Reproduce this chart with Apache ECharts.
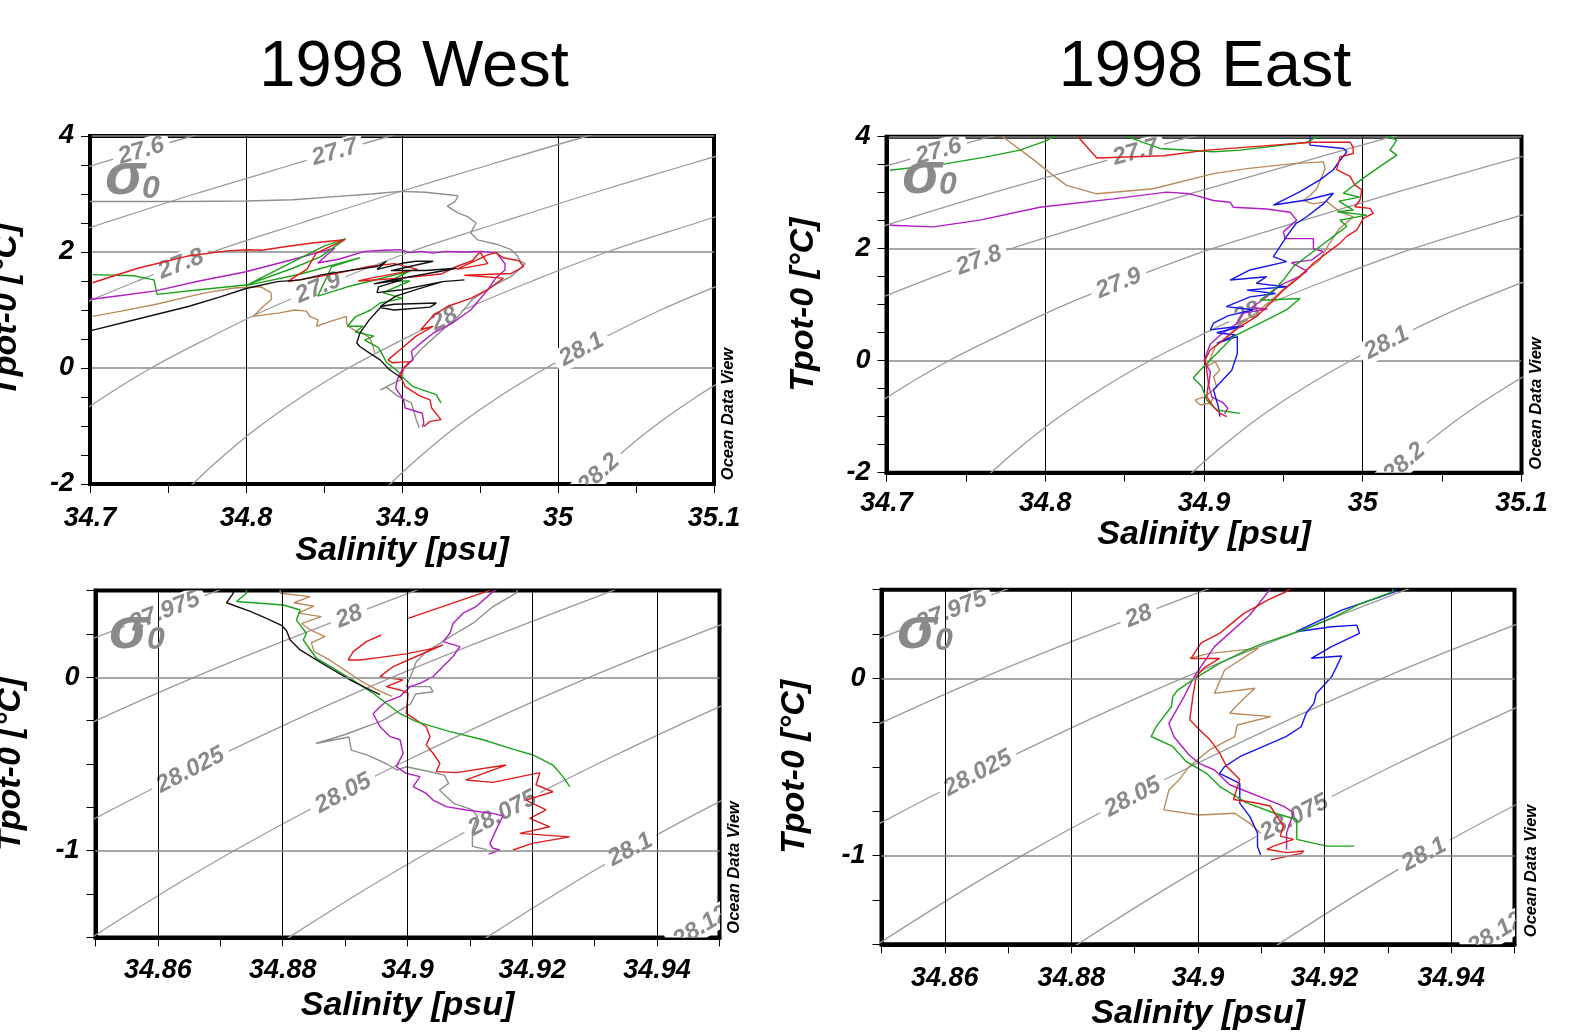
<!DOCTYPE html>
<html>
<head>
<meta charset="utf-8">
<title>1998 West / East - Tpot-0 vs Salinity</title>
<script src="https://cdn.jsdelivr.net/npm/echarts/dist/echarts.min.js"></script>
<style>
  html, body { margin: 0; padding: 0; background: #fff; }
  #chart { width: 1582px; height: 1036px; }
</style>
</head>
<body>
<div id="chart"></div>
<script>
// ---- tick values ----
var zoomSalTicks = [34.86, 34.88, 34.9, 34.92, 34.94]
var zoomTempGrid = [0, -1]

// ---- isopycnals sigma0, [salinity, tpot] ----
var iso276 = [[34.6405, 3.0], [34.7025, 3.5], [34.7658, 4.0], [34.8354, 4.5]]
var iso277 = [[34.6519, 2.0], [34.7089, 2.5], [34.7671, 3.0], [34.8291, 3.5], [34.8924, 4.0], [34.962, 4.5]]
var iso278 = [[34.6481, 0.5], [34.6861, 1.0], [34.7304, 1.5], [34.7785, 2.0], [34.8354, 2.5], [34.8937, 3.0], [34.9557, 3.5], [35.019, 4.0], [35.0886, 4.5]]
var iso279 = [[34.6823, -1.0], [34.7089, -0.5], [34.7392, 0], [34.7747, 0.5], [34.8127, 1.0], [34.857, 1.5], [34.9051, 2.0], [34.962, 2.5], [35.0203, 3.0], [35.0823, 3.5], [35.1456, 4.0]]
var iso280 = [[34.7481, -2.5], [34.7658, -2.0], [34.7861, -1.5], [34.8089, -1.0], [34.8354, -0.5], [34.8658, 0], [34.9013, 0.5], [34.9392, 1.0], [34.9835, 1.5], [35.0316, 2.0], [35.0886, 2.5], [35.1468, 3.0]]
var iso281 = [[34.8747, -2.5], [34.8924, -2.0], [34.9127, -1.5], [34.9354, -1.0], [34.962, -0.5], [34.9924, 0], [35.0278, 0.5], [35.0658, 1.0], [35.1101, 1.5]]
var iso282 = [[35.0013, -2.5], [35.019, -2.0], [35.0392, -1.5], [35.062, -1.0], [35.0886, -0.5], [35.119, 0]]
var iso27975 = [[34.8038, -0.5], [34.8342, 0], [34.8696, 0.5], [34.9076, 1.0]]
var iso28025 = [[34.7975, -2.0], [34.8177, -1.5], [34.8405, -1.0], [34.8671, -0.5], [34.8975, 0], [34.9329, 0.5], [34.9709, 1.0]]
var iso2805 = [[34.8291, -2.0], [34.8494, -1.5], [34.8722, -1.0], [34.8987, -0.5], [34.9291, 0], [34.9646, 0.5], [35.0025, 1.0]]
var iso28075 = [[34.8608, -2.0], [34.881, -1.5], [34.9038, -1.0], [34.9304, -0.5], [34.9608, 0], [34.9962, 0.5]]
var iso28125 = [[34.9241, -2.0], [34.9443, -1.5], [34.9671, -1.0], [34.9937, -0.5], [35.0241, 0]]

var topIso = [iso276, iso277, iso278, iso279, iso280, iso281, iso282]
var zoomIso = [iso27975, iso280, iso28025, iso2805, iso28075, iso281, iso28125]

// contour labels: [text, index in iso list, tpot where it sits]
var topLabels = [['27.6', 0, 3.74], ['27.7', 1, 3.72], ['27.8', 2, 1.79], ['27.9', 3, 1.38], ['28', 4, 0.84], ['28.1', 5, 0.32], ['28.2', 6, -1.82]]
var zoomLabels = [['27.975', 0, 0.38], ['28', 1, 0.35], ['28.025', 2, -0.535], ['28.05', 3, -0.67], ['28.075', 4, -0.785], ['28.1', 5, -0.994], ['28.125', 6, -1.42]]

// ---- 1998 West, full range ----
var westGray = [[34.700, 2.87], [34.760, 2.87], [34.800, 2.88], [34.830, 2.90], [34.855, 2.95], [34.880, 3.00], [34.899, 3.045], [34.915, 3.03], [34.936, 2.97], [34.934, 2.87], [34.929, 2.79], [34.936, 2.67], [34.942, 2.61], [34.9475, 2.50], [34.944, 2.33], [34.9485, 2.21], [34.961, 2.13], [34.970, 2.04], [34.974, 1.93], [34.976, 1.84], [34.979, 1.80], [34.976, 1.72], [34.970, 1.58], [34.958, 1.41], [34.945, 1.18], [34.936, 0.89], [34.924, 0.61], [34.912, 0.32], [34.905, 0.10], [34.901, 0.0], [34.900, -0.19], [34.891, -0.31], [34.886, -0.38], [34.890, -0.33], [34.897, -0.48], [34.906, -0.60], [34.909, -0.88], [34.911, -1.03]]
var westRed = [[34.7016, 1.47], [34.7306, 1.72], [34.7626, 1.93], [34.788, 2.02], [34.801, 2.04], [34.81, 2.03], [34.827, 2.10], [34.844, 2.16], [34.863, 2.21], [34.845, 1.98], [34.839, 1.70], [34.83, 1.55], [34.827, 1.49], [34.854, 1.61], [34.879, 1.75], [34.895, 1.80], [34.91, 1.70], [34.88, 1.55], [34.872, 1.50], [34.90, 1.55], [34.925, 1.62], [34.935, 1.75], [34.945, 1.85], [34.95, 2.0], [34.955, 1.8], [34.935, 1.7], [34.955, 1.95], [34.96, 1.99], [34.965, 1.9], [34.975, 1.85], [34.978, 1.75], [34.97, 1.63], [34.94, 1.6], [34.965, 1.55], [34.955, 1.35], [34.944, 1.2], [34.929, 1.06], [34.92, 0.9], [34.912, 0.66], [34.92, 0.72], [34.909, 0.55], [34.899, 0.32], [34.891, 0.14], [34.894, 0.09], [34.905, 0.11], [34.901, 0.0], [34.899, -0.14], [34.902, -0.32], [34.912, -0.49], [34.918, -0.55], [34.919, -0.69], [34.925, -0.89], [34.918, -0.92], [34.914, -1.01]]
var westGreen = [[34.7017, 1.61], [34.728, 1.59], [34.741, 1.52], [34.743, 1.27], [34.770, 1.35], [34.800, 1.43], [34.830, 1.72], [34.848, 1.92], [34.864, 2.23], [34.850, 2.10], [34.800, 1.42], [34.835, 1.62], [34.873, 1.90], [34.855, 1.75], [34.846, 1.24], [34.865, 1.40], [34.880, 1.50], [34.905, 1.67], [34.892, 1.50], [34.905, 1.50], [34.888, 1.30], [34.900, 1.20], [34.886, 1.12], [34.880, 1.00], [34.870, 0.88], [34.865, 0.72], [34.875, 0.72], [34.870, 0.62], [34.882, 0.55], [34.876, 0.48], [34.885, 0.35], [34.890, 0.10], [34.897, -0.05], [34.902, -0.20], [34.907, -0.32], [34.922, -0.46], [34.925, -0.60]]
var westMagenta = [[34.700, 1.18], [34.720, 1.25], [34.742, 1.33], [34.770, 1.50], [34.800, 1.66], [34.830, 1.87], [34.857, 2.07], [34.846, 1.81], [34.860, 1.88], [34.876, 2.01], [34.888, 2.03], [34.899, 2.04], [34.905, 1.99], [34.912, 2.01], [34.920, 1.98], [34.928, 2.01], [34.940, 2.0], [34.951, 2.01], [34.961, 1.98], [34.963, 1.90], [34.966, 1.80], [34.966, 1.69], [34.960, 1.55], [34.955, 1.35], [34.944, 1.00], [34.932, 0.77], [34.920, 0.60], [34.913, 0.45], [34.906, 0.29], [34.907, 0.14], [34.900, -0.03], [34.897, -0.20], [34.896, -0.35], [34.901, -0.55], [34.902, -0.69], [34.913, -0.78], [34.914, -0.95], [34.913, -1.02]]
var westBrown = [[34.7017, 0.89], [34.720, 0.98], [34.741, 1.09], [34.773, 1.29], [34.7925, 1.38], [34.8096, 1.40], [34.816, 1.30], [34.8163, 1.18], [34.811, 1.06], [34.8046, 0.89], [34.813, 0.92], [34.8216, 0.95], [34.8313, 1.00], [34.8387, 0.98], [34.8409, 0.89], [34.8462, 0.83], [34.8452, 0.72], [34.8537, 0.80], [34.8644, 0.89], [34.8644, 0.77], [34.8655, 0.72], [34.8708, 0.63], [34.875, 0.60], [34.8793, 0.52], [34.8815, 0.37], [34.8825, 0.26]]
var westBlack = [[34.700, 0.64], [34.730, 0.84], [34.763, 1.06], [34.784, 1.23], [34.800, 1.37], [34.820, 1.49], [34.835, 1.52], [34.849, 1.61], [34.871, 1.70], [34.884, 1.75], [34.890, 1.84], [34.884, 1.70], [34.901, 1.81], [34.909, 1.84], [34.920, 1.84], [34.905, 1.75], [34.893, 1.68], [34.915, 1.68], [34.935, 1.72], [34.915, 1.62], [34.890, 1.50], [34.882, 1.45], [34.900, 1.52], [34.885, 1.40], [34.884, 1.30], [34.900, 1.35], [34.926, 1.49], [34.940, 1.52], [34.926, 1.49], [34.909, 1.35], [34.896, 1.24], [34.886, 1.06], [34.895, 1.10], [34.922, 1.12], [34.918, 1.05], [34.895, 1.00], [34.886, 1.04], [34.879, 0.83], [34.873, 0.60], [34.871, 0.43], [34.873, 0.37], [34.879, 0.26], [34.886, 0.14], [34.892, -0.03], [34.897, -0.12], [34.900, -0.18]]

// ---- 1998 East, full range ----
var eastGreen = [[34.7021, 3.40], [34.7378, 3.52], [34.763, 3.64], [34.784, 3.76], [34.8008, 3.93], [34.805, 4.0], [34.83, 4.3], [34.8555, 3.96], [34.8722, 3.79], [34.906, 3.73], [34.9227, 3.76], [34.965, 3.90], [34.99, 4.3], [35.0214, 3.94], [35.0172, 3.76], [35.0214, 3.67], [35.0109, 3.47], [35.0004, 3.26], [34.9878, 2.99], [34.998, 2.92], [34.985, 2.85], [34.9941, 2.69], [34.984, 2.66], [35.0025, 2.60], [34.9857, 2.51], [34.99, 2.40], [34.9815, 2.22], [34.973, 2.04], [34.9647, 1.86], [34.9563, 1.68], [34.95, 1.44], [34.9437, 1.26], [34.9353, 1.08], [34.9605, 1.11], [34.9521, 0.91], [34.9395, 0.73], [34.929, 0.58], [34.9185, 0.43], [34.9122, 0.25], [34.906, 0.07], [34.8975, -0.17], [34.8933, -0.31], [34.8986, -0.46], [34.9017, -0.70], [34.908, -0.88], [34.9227, -0.94]]
var eastRed = [[34.8218, 4.1], [34.8218, 3.96], [34.8325, 3.62], [34.8745, 3.66], [34.902, 3.76], [34.944, 3.85], [34.968, 3.90], [34.992, 3.90], [34.994, 3.81], [34.994, 3.70], [34.9857, 3.64], [34.9836, 3.41], [34.992, 3.29], [34.995, 3.14], [34.9994, 3.05], [34.9983, 2.87], [34.995, 2.75], [35.0046, 2.72], [35.0067, 2.63], [35.0004, 2.54], [34.9962, 2.33], [34.9899, 2.22], [34.9857, 2.10], [34.9773, 1.92], [34.9689, 1.74], [34.9605, 1.50], [34.95, 1.26], [34.9416, 1.02], [34.9332, 0.79], [34.9227, 0.61], [34.9122, 0.37], [34.9038, 0.19], [34.9007, 0.01], [34.9017, -0.17], [34.9028, -0.40], [34.9017, -0.64], [34.9059, -0.82], [34.9101, -0.94], [34.9143, -1.0]]
var eastBlue = [[34.9668, 4.05], [34.9668, 3.85], [34.988, 3.79], [34.99, 3.73], [34.9857, 3.58], [34.9815, 3.41], [34.973, 3.23], [34.9605, 3.02], [34.9437, 2.78], [34.9647, 2.87], [34.9815, 2.99], [34.9752, 2.80], [34.9647, 2.57], [34.958, 2.45], [34.952, 2.22], [34.948, 2.04], [34.9437, 1.86], [34.952, 1.77], [34.929, 1.62], [34.9164, 1.44], [34.9395, 1.50], [34.933, 1.38], [34.952, 1.32], [34.927, 1.26], [34.945, 1.20], [34.929, 1.14], [34.914, 0.965], [34.931, 0.91], [34.915, 0.80], [34.906, 0.67], [34.904, 0.55], [34.912, 0.58], [34.925, 0.62], [34.908, 0.50], [34.92, 0.46], [34.908, 0.31], [34.921, 0.43], [34.921, 0.13], [34.9175, -0.17], [34.910, -0.40], [34.906, -0.52], [34.909, -0.82], [34.910, -1.0]]
var eastMagenta = [[34.7021, 2.42], [34.7294, 2.39], [34.7588, 2.51], [34.7966, 2.74], [34.8429, 2.89], [34.8765, 3.01], [34.8912, 2.98], [34.9059, 2.86], [34.9164, 2.83], [34.9185, 2.74], [34.9395, 2.71], [34.9542, 2.65], [34.9584, 2.51], [34.95, 2.30], [34.951, 2.18], [34.9689, 2.18], [34.9689, 2.0], [34.975, 1.95], [34.968, 1.80], [34.955, 1.75], [34.965, 1.6], [34.96, 1.5], [34.948, 1.35], [34.94, 1.15], [34.93, 0.95], [34.94, 0.92], [34.925, 0.85], [34.92, 0.65], [34.91, 0.45], [34.904, 0.3], [34.902, 0.15], [34.90, 0.0], [34.904, -0.2], [34.903, -0.45], [34.905, -0.65], [34.912, -0.75], [34.915, -0.85], [34.913, -0.95]]
var eastBrown = [[34.7735, 4.05], [34.7735, 3.99], [34.7903, 3.64], [34.805, 3.31], [34.8134, 3.13], [34.8324, 2.98], [34.868, 3.07], [34.9059, 3.34], [34.9269, 3.43], [34.9563, 3.52], [34.9752, 3.55], [34.9763, 3.43], [34.971, 3.07], [34.9668, 2.95], [34.9626, 2.86], [34.9689, 2.80], [34.9773, 2.84], [34.9857, 2.66], [34.9941, 2.57], [34.985, 2.35], [34.978, 2.05], [34.973, 1.80], [34.9647, 1.62], [34.955, 1.40], [34.945, 1.15], [34.935, 0.9], [34.925, 0.7], [34.915, 0.45], [34.907, 0.25], [34.9018, -0.107], [34.907, -0.018], [34.910, -0.166], [34.906, -0.286], [34.908, -0.464], [34.9007, -0.643], [34.8944, -0.70], [34.8975, -0.79], [34.904, -0.76], [34.906, -0.64]]

// ---- 1998 West, deep water close-up ----
var westDeepBlack = [[34.8716, 0.52], [34.8721, 0.485], [34.871, 0.43], [34.8748, 0.38], [34.8774, 0.34], [34.8798, 0.30], [34.8806, 0.27], [34.8812, 0.215], [34.8828, 0.158], [34.8854, 0.10], [34.8881, 0.042], [34.8908, -0.015], [34.8934, -0.063], [34.8956, -0.10]]
var westDeepGreen = [[34.8742, 0.52], [34.8742, 0.485], [34.8726, 0.437], [34.8764, 0.427], [34.8801, 0.417], [34.8828, 0.388], [34.8822, 0.33], [34.8838, 0.254], [34.8833, 0.215], [34.8854, 0.11], [34.8908, -0.006], [34.8945, -0.092], [34.8966, -0.15], [34.8988, -0.21], [34.9014, -0.256], [34.9068, -0.313], [34.9121, -0.36], [34.9174, -0.42], [34.9201, -0.448], [34.9233, -0.506], [34.9249, -0.573], [34.926, -0.63]]
var westDeepBrown = [[34.8796, 0.52], [34.8796, 0.485], [34.8844, 0.465], [34.8818, 0.43], [34.885, 0.41], [34.8825, 0.37], [34.8862, 0.35], [34.883, 0.31], [34.8846, 0.27], [34.8868, 0.235], [34.8846, 0.20], [34.885, 0.15], [34.8875, 0.10], [34.89, 0.04], [34.8925, -0.02], [34.895, -0.07], [34.8975, -0.11]]
var westDeepMagenta = [[34.915, 0.52], [34.9137, 0.494], [34.911, 0.408], [34.9089, 0.37], [34.9073, 0.31], [34.9068, 0.254], [34.9057, 0.206], [34.9084, 0.177], [34.9073, 0.12], [34.9041, 0.004], [34.902, -0.035], [34.9004, -0.054], [34.8988, -0.11], [34.8966, -0.14], [34.8956, -0.17], [34.8945, -0.21], [34.8956, -0.285], [34.8972, -0.342], [34.8988, -0.36], [34.8993, -0.44], [34.8982, -0.515], [34.8998, -0.554], [34.902, -0.573], [34.9009, -0.63], [34.903, -0.67], [34.9041, -0.708], [34.9062, -0.746], [34.9094, -0.765], [34.9137, -0.785], [34.9153, -0.80], [34.9142, -0.88], [34.9132, -0.96], [34.9137, -0.986], [34.9148, -0.996], [34.913, -1.02]]
var westDeepRedTop = [[34.9145, 0.53], [34.9126, 0.494], [34.9001, 0.34]]
var westDeepRed = [[34.8958, 0.244], [34.8934, 0.206], [34.8913, 0.148], [34.8905, 0.10], [34.8924, 0.10], [34.8956, 0.115], [34.8998, 0.135], [34.9041, 0.167], [34.9057, 0.187], [34.9014, 0.12], [34.8977, 0.062], [34.8956, 0.004], [34.8974, -0.006], [34.8993, -0.015], [34.8966, -0.054], [34.8988, -0.073], [34.9001, -0.092], [34.8998, -0.208], [34.9014, -0.246], [34.903, -0.285], [34.9036, -0.342], [34.903, -0.39], [34.9041, -0.438], [34.9052, -0.496], [34.9046, -0.544], [34.9078, -0.55], [34.9158, -0.506], [34.9094, -0.592], [34.9137, -0.606], [34.9212, -0.55], [34.9206, -0.62], [34.9233, -0.66], [34.919, -0.708], [34.9222, -0.765], [34.9196, -0.813], [34.9228, -0.862], [34.918, -0.90], [34.926, -0.92], [34.92, -0.958], [34.9169, -0.996]]
var westDeepGray = [[34.918, 0.53], [34.9174, 0.485], [34.9137, 0.408], [34.9105, 0.312], [34.9073, 0.244], [34.9052, 0.196], [34.903, 0.148], [34.9014, 0.09], [34.9009, 0.042], [34.8998, -0.054], [34.9036, -0.054], [34.9041, -0.083], [34.9013, -0.096], [34.9005, -0.153], [34.896, -0.25], [34.89, -0.33], [34.8853, -0.382], [34.8906, -0.344], [34.891, -0.42], [34.8937, -0.45], [34.8967, -0.50], [34.8983, -0.535], [34.8998, -0.516], [34.9036, -0.545], [34.9059, -0.564], [34.9066, -0.612], [34.9051, -0.65], [34.9074, -0.727], [34.9089, -0.746], [34.9104, -0.765], [34.9112, -0.803], [34.9104, -0.88], [34.9104, -0.975], [34.9127, -0.994]]

// ---- 1998 East, deep water close-up ----
var eastDeepRed = [[34.9155, 0.53], [34.9138, 0.487], [34.9109, 0.44], [34.909, 0.40], [34.9072, 0.365], [34.905, 0.30], [34.9034, 0.253], [34.9005, 0.20], [34.8989, 0.112], [34.9034, 0.112], [34.901, 0.06], [34.8997, 0.009], [34.8992, -0.10], [34.8987, -0.234], [34.9008, -0.31], [34.9019, -0.346], [34.9034, -0.42], [34.9045, -0.496], [34.9066, -0.571], [34.9056, -0.683], [34.9088, -0.70], [34.9114, -0.72], [34.9135, -0.833], [34.913, -0.89], [34.9151, -0.908], [34.9119, -0.946], [34.9109, -0.964], [34.914, -0.983], [34.9167, -0.974], [34.9163, -0.987], [34.9115, -1.024]]
var eastDeepGreen = [[34.9308, 0.53], [34.9308, 0.489], [34.9255, 0.418], [34.9215, 0.346], [34.9172, 0.281], [34.9147, 0.25], [34.9103, 0.197], [34.9077, 0.159], [34.9034, 0.084], [34.9008, 0.028], [34.8992, -0.009], [34.8968, -0.066], [34.896, -0.103], [34.8958, -0.159], [34.8934, -0.272], [34.8926, -0.328], [34.896, -0.384], [34.8981, -0.468], [34.9013, -0.534], [34.9034, -0.609], [34.9077, -0.702], [34.9119, -0.758], [34.9156, -0.796], [34.9156, -0.908], [34.9204, -0.946], [34.9247, -0.946]]
var eastDeepBlue = [[34.9312, 0.53], [34.9312, 0.489], [34.9227, 0.385], [34.9155, 0.263], [34.9211, 0.291], [34.9251, 0.30], [34.9255, 0.254], [34.9211, 0.179], [34.9179, 0.113], [34.9227, 0.126], [34.9219, 0.066], [34.9211, 0.009], [34.9187, -0.085], [34.9183, -0.141], [34.9171, -0.197], [34.9163, -0.273], [34.9139, -0.329], [34.9066, -0.442], [34.9042, -0.498], [34.9034, -0.536], [34.9066, -0.592], [34.9066, -0.705], [34.9082, -0.78], [34.9094, -0.874], [34.9094, -0.949], [34.9099, -0.996]]
var eastDeepMagenta = [[34.912, 0.53], [34.9082, 0.357], [34.9026, 0.179], [34.8994, 0.009], [34.8978, -0.103], [34.8954, -0.254], [34.8962, -0.329], [34.8986, -0.432], [34.9002, -0.479], [34.9026, -0.517], [34.905, -0.6], [34.9135, -0.721], [34.9151, -0.758], [34.914, -0.871], [34.914, -0.964]]
var eastDeepBrown = [[34.8986, 0.113], [34.9018, 0.141], [34.9095, 0.169], [34.9042, 0.047], [34.9026, -0.085], [34.909, -0.056], [34.907, -0.122], [34.905, -0.197], [34.9115, -0.216], [34.9062, -0.263], [34.9058, -0.329], [34.9018, -0.404], [34.8986, -0.498], [34.897, -0.573], [34.8954, -0.63], [34.8946, -0.742], [34.9002, -0.771], [34.9058, -0.761], [34.9082, -0.818], [34.9099, -0.874]]

var FONT = '"Liberation Sans", Arial, Helvetica, sans-serif'
var colors = { red: '#e01b1b', green: '#1ba31b', magenta: '#b01ec4', brown: '#b98b5c', black: '#111111', gray: '#8f8f8f', blue: '#1515ee' }

var panels = [
  { top: true, grid: { left: 90, top: 136, width: 624, height: 348 },
    profiles: [[westGray, 'gray'], [westBrown, 'brown'], [westMagenta, 'magenta'], [westGreen, 'green'], [westRed, 'red'], [westBlack, 'black']],
    xGap: 50, yGap: 66, xMargin: 21 },
  { top: true, grid: { left: 886.5, top: 136.7, width: 635, height: 336 },
    profiles: [[eastBrown, 'brown'], [eastMagenta, 'magenta'], [eastBlue, 'blue'], [eastGreen, 'green'], [eastRed, 'red']],
    xGap: 44, yGap: 66, xMargin: 17 },
  { top: false, grid: { left: 95.5, top: 590.6, width: 624, height: 346.8 },
    profiles: [[westDeepGray, 'gray'], [westDeepBrown, 'brown'], [westDeepMagenta, 'magenta'], [westDeepRedTop, 'red'], [westDeepRed, 'red'], [westDeepGreen, 'green'], [westDeepBlack, 'black']],
    xGap: 51, yGap: 68, xMargin: 20 },
  { top: false, grid: { left: 881.5, top: 589.7, width: 633, height: 354.6 },
    profiles: [[eastDeepBrown, 'brown'], [eastDeepMagenta, 'magenta'], [eastDeepBlue, 'blue'], [eastDeepGreen, 'green'], [eastDeepRed, 'red']],
    xGap: 52, yGap: 70, xMargin: 21 }
]

// position of a label along its isopycnal (linear between the two neighbouring points)
function onIso(iso, t) {
  for (var j = 0; j < iso.length - 1; j++) {
    var a = iso[j], b = iso[j + 1]
    if (t >= a[1] && t <= b[1]) {
      var f = (t - a[1]) / (b[1] - a[1])
      return [a[0] + f * (b[0] - a[0]), t, j]
    }
  }
  return [iso[0][0], iso[0][1], 0]
}

var tickFont = { color: '#000', fontSize: 27, fontWeight: 'bold', fontStyle: 'italic', fontFamily: FONT }
var nameFont = { color: '#000', fontSize: 34, fontWeight: 'bold', fontStyle: 'italic', fontFamily: FONT }

var grids = [], xAxes = [], yAxes = [], series = []

panels.forEach(function (p, gi) {
  grids.push({ left: p.grid.left, top: p.grid.top, width: p.grid.width, height: p.grid.height,
    outerBoundsMode: 'none', containLabel: false,
    show: true, borderColor: '#000', borderWidth: 4, backgroundColor: '#fff' })

  var x = { gridIndex: gi, type: 'value', name: 'Salinity [psu]', nameLocation: 'middle', nameGap: p.xGap,
    nameTextStyle: nameFont,
    axisLine: { show: true, onZero: false, lineStyle: { color: '#000', width: 4 } },
    axisTick: { show: true, length: 9, lineStyle: { color: '#000', width: 1 } },
    axisLabel: Object.assign({ margin: p.xMargin }, tickFont) }
  var y = { gridIndex: gi, type: 'value', name: 'Tpot-0 [°C]', nameLocation: 'middle', nameGap: p.yGap,
    nameTextStyle: nameFont,
    axisLine: { show: true, onZero: false, lineStyle: { color: '#000', width: 4 } },
    axisTick: { show: true, length: 9, lineStyle: { color: '#000', width: 1 } },
    axisLabel: Object.assign({ margin: 16 }, tickFont) }

  if (p.top) {
    x.min = 34.7; x.max = 35.1; x.interval = 0.1
    x.minorTick = { show: true, splitNumber: 2, length: 9, lineStyle: { color: '#000', width: 1 } }
    x.splitLine = { show: true, lineStyle: { color: '#000', width: 1 } }
    y.min = -2; y.max = 4; y.interval = 2
    y.minorTick = { show: true, splitNumber: 4, length: 9, lineStyle: { color: '#000', width: 1 } }
    y.splitLine = { show: true, lineStyle: { color: '#8a8a8a', width: 1.6 } }
  } else {
    x.min = 34.85; x.max = 34.95; x.interval = 0.01
    x.splitLine = { show: false }
    x.axisLabel.formatter = function (v) {
      var k = Math.round(v * 100)
      return k % 2 === 0 ? String(k / 100) : ''
    }
    y.min = -1.5; y.max = 0.5; y.interval = 0.5
    y.minorTick = { show: true, splitNumber: 2, length: 9, lineStyle: { color: '#000', width: 1 } }
    y.splitLine = { show: false }
    y.axisLabel.formatter = function (v) {
      return Math.abs(v - Math.round(v)) < 1e-6 ? String(Math.round(v)) : ''
    }
  }
  xAxes.push(x)
  yAxes.push(y)

  var isoList = p.top ? topIso : zoomIso
  var labels = p.top ? topLabels : zoomLabels

  // isopycnals
  isoList.forEach(function (iso, k) {
    var s = { type: 'line', xAxisIndex: gi, yAxisIndex: gi, data: iso, smooth: 0.35, showSymbol: false,
      silent: true, z: 2, clip: true, lineStyle: { color: '#9a9a9a', width: 1.3 } }
    if (k === 0 && !p.top) {
      s.markLine = { silent: true, symbol: ['none', 'none'], label: { show: false }, animation: false,
        data: zoomSalTicks.map(function (v) { return { xAxis: v, lineStyle: { color: '#000', width: 1, type: 'solid' } } })
          .concat(zoomTempGrid.map(function (v) { return { yAxis: v, lineStyle: { color: '#8a8a8a', width: 1.6, type: 'solid' } } })) }
    }
    series.push(s)
  })

  // contour labels, cut into the grey lines
  series.push({ type: 'custom', xAxisIndex: gi, yAxisIndex: gi, clip: true, silent: true, z: 3,
    data: labels.map(function (l) { var q = onIso(isoList[l[1]], l[2]); return [q[0], q[1]] }),
    renderItem: function (params, api) {
      var l = labels[params.dataIndex]
      var iso = isoList[l[1]]
      var q = onIso(iso, l[2])
      var a = api.coord(iso[q[2]]), b = api.coord(iso[q[2] + 1])
      var c = api.coord([api.value(0), api.value(1)])
      return { type: 'text', x: c[0], y: c[1], rotation: Math.atan2(a[1] - b[1], b[0] - a[0]),
        style: { text: l[0], fill: '#8a8a8a', font: 'italic bold 24px ' + FONT, align: 'center', verticalAlign: 'middle',
          backgroundColor: '#fff', padding: [0, 6] } }
    } })

  // CTD profiles
  p.profiles.forEach(function (pr) {
    series.push({ type: 'line', xAxisIndex: gi, yAxisIndex: gi, data: pr[0], showSymbol: false, silent: true,
      z: 4, clip: true, lineStyle: { color: colors[pr[1]], width: 1.4 } })
  })
})

// titles, sigma-0 marks and the ODV credit
var graphics = [
  { type: 'text', x: 414, y: 68.5, style: { text: '1998 West', font: '65px ' + FONT, fill: '#000', align: 'center', verticalAlign: 'middle' } },
  { type: 'text', x: 1205, y: 68.5, style: { text: '1998 East', font: '65px ' + FONT, fill: '#000', align: 'center', verticalAlign: 'middle' } }
]
var sigmaSpots = [[125, 177, 151, 189], [922, 176, 948, 185], [129, 631, 156, 640], [917, 631, 944, 641]]
sigmaSpots.forEach(function (s) {
  graphics.push({ type: 'text', x: s[0], y: s[1], z: 100, style: { text: 'σ', font: 'italic bold 60px ' + FONT, fill: '#8a8a8a', align: 'center', verticalAlign: 'middle' } })
  graphics.push({ type: 'text', x: s[2], y: s[3], z: 100, style: { text: '0', font: 'italic bold 32px ' + FONT, fill: '#8a8a8a', align: 'center', verticalAlign: 'middle' } })
})
var odvSpots = [[728.5, 414], [1536, 403.5], [734.5, 867.5], [1531.5, 871]]
odvSpots.forEach(function (s) {
  graphics.push({ type: 'text', x: s[0], y: s[1], rotation: Math.PI / 2, z: 100,
    style: { text: 'Ocean Data View', font: 'italic bold 16.5px ' + FONT, fill: '#000', align: 'center', verticalAlign: 'middle' } })
})

var chart = echarts.init(document.getElementById('chart'))
chart.setOption({
  animation: false,
  backgroundColor: '#fff',
  textStyle: { fontFamily: FONT },
  grid: grids,
  xAxis: xAxes,
  yAxis: yAxes,
  series: series,
  graphic: graphics
})
</script>
</body>
</html>
